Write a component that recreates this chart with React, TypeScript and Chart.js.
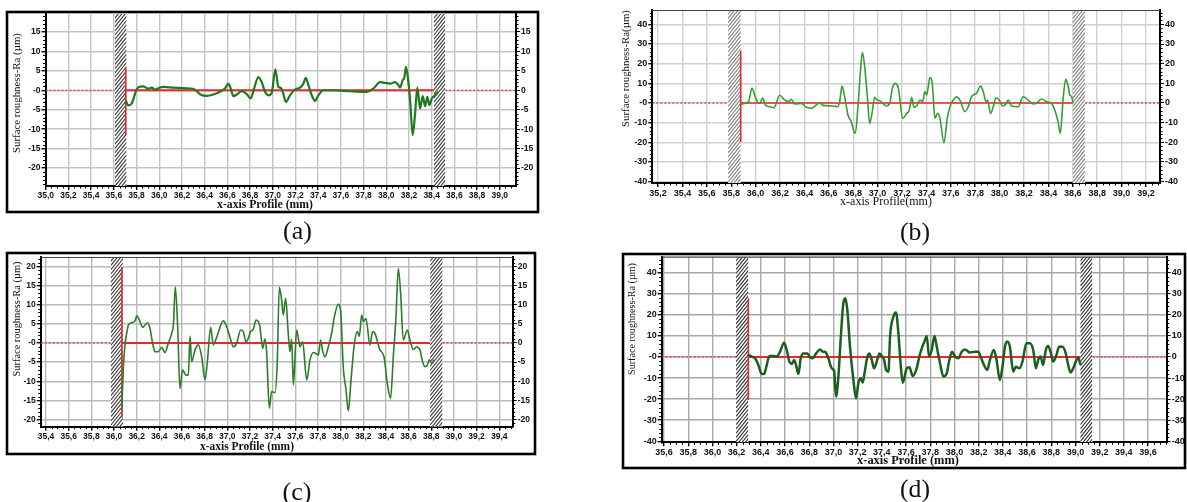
import React, { useEffect, useRef } from "react";
import { Chart, registerables } from "chart.js";

Chart.register(...registerables);

const PAGE_W = 1187;
const PAGE_H = 502;
const SANS = "'Liberation Sans', Arial, sans-serif";
const SERIF = "'Liberation Serif', 'Times New Roman', serif";

// ---------------- (a) ----------------
const A_X = [35.705, 35.728, 35.757, 35.801, 35.825, 35.86, 35.881, 35.904, 35.934, 35.963, 36.007, 36.036, 36.124, 36.242, 36.3, 36.359, 36.418, 36.477, 36.536, 36.58, 36.609, 36.63, 36.653, 36.688, 36.727, 36.771, 36.806, 36.835, 36.873, 36.903, 36.932, 36.961, 36.991, 37.023, 37.049, 37.073, 37.093, 37.115, 37.152, 37.196, 37.24, 37.27, 37.291, 37.314, 37.344, 37.373, 37.402, 37.446, 37.534, 37.681, 37.828, 37.886, 37.945, 37.989, 38.033, 38.077, 38.107, 38.122, 38.145, 38.159, 38.174, 38.195, 38.21, 38.233, 38.254, 38.274, 38.298, 38.321, 38.342, 38.362, 38.38, 38.401, 38.43, 38.459];
const A_Y = [-2.6, -3.9, -3.4, 0.2, 0.9, 1.0, 0.7, 0.4, 0.7, 0.2, 0.7, 0.85, 0.7, 0.5, 0.4, -1.0, -1.45, -1.1, -0.4, 0.5, 1.7, 0.4, -1.5, -1.0, -0.2, -1.0, -2.1, 0.4, 3.4, 2.1, -0.4, -1.3, -0.7, 5.4, 0.9, 0.6, -0.9, -3.0, -1.3, 0.2, 0.7, 1.7, 3.2, 1.3, -1.3, -2.7, -1.3, 0, 0, -0.25, -0.4, 0.4, 2.1, 1.9, 1.7, 2.1, 1.3, 0.7, 2.6, 3.2, 6.0, 2.1, -2.6, -11.5, -6.0, 0.7, -4.7, -1.5, -4.1, -1.7, -3.8, -2.1, -1.3, -0.4];
const A_X_TICKS = [35.0, 35.2, 35.4, 35.6, 35.8, 36.0, 36.2, 36.4, 36.6, 36.8, 37.0, 37.2, 37.4, 37.6, 37.8, 38.0, 38.2, 38.4, 38.6, 38.8, 39.0];
const A_Y_TICKS = [-20, -15, -10, -5, 0, 5, 10, 15];
const A_BANDS = [[35.61, 35.712], [38.42, 38.52]];
const A_EDGE = [35.705, 6, -11.5];

// ---------------- (b) ----------------
const B_X = [35.878, 35.91, 35.943, 35.97, 35.992, 36.014, 36.033, 36.058, 36.08, 36.115, 36.151, 36.197, 36.238, 36.271, 36.293, 36.32, 36.375, 36.416, 36.457, 36.498, 36.525, 36.552, 36.621, 36.67, 36.689, 36.708, 36.73, 36.757, 36.784, 36.806, 36.817, 36.839, 36.858, 36.875, 36.894, 36.916, 36.935, 36.954, 36.976, 36.995, 37.017, 37.044, 37.071, 37.099, 37.121, 37.143, 37.17, 37.206, 37.239, 37.26, 37.279, 37.298, 37.32, 37.348, 37.369, 37.388, 37.402, 37.429, 37.448, 37.47, 37.492, 37.511, 37.544, 37.571, 37.593, 37.62, 37.648, 37.675, 37.716, 37.743, 37.77, 37.811, 37.844, 37.866, 37.888, 37.901, 37.926, 37.948, 37.97, 37.997, 38.024, 38.051, 38.07, 38.098, 38.152, 38.193, 38.234, 38.275, 38.302, 38.343, 38.384, 38.425, 38.452, 38.479, 38.498, 38.52, 38.542, 38.564, 38.575, 38.591, 38.602];
const B_Y = [-0.7, -0.2, 0.7, 7.6, 4.1, 0.7, -0.2, 2.5, -1.0, -1.9, -2.4, 3.9, 1.5, 0.7, 1.9, -0.5, -0.2, -2.2, -2.7, -1.0, 0.2, -1.2, -1.5, -1.9, 0.7, 8.6, 3.2, -6.1, -9.5, -14.6, -15.4, -1.9, 15.1, 25.8, 18.5, 3.2, -10.3, -5.3, 2.9, 1.5, 1.2, -0.2, -1.5, -0.2, 7.5, 10.0, 7.5, -7.8, -5.3, -3.6, 2.9, -2.2, -1.5, 1.5, 0.7, 5.8, 4.1, 12.9, 10.0, -7.8, -5.3, -7.8, -20.2, -7.8, -1.9, 1.5, 3.2, 1.5, -4.4, -1.9, 3.2, 4.9, 8.6, 5.8, 0.7, 1.5, -5.3, -1.9, 2.7, 1.5, -1.5, -0.5, 1.5, -1.5, -1.9, 3.2, 1.5, -0.5, -0.2, 2.0, 0.7, -0.2, -3.6, -9.5, -15.4, 1.5, 12.0, 8.0, 4.1, 3.2, -0.2];
const B_X_TICKS = [35.2, 35.4, 35.6, 35.8, 36.0, 36.2, 36.4, 36.6, 36.8, 37.0, 37.2, 37.4, 37.6, 37.8, 38.0, 38.2, 38.4, 38.6, 38.8, 39.0, 39.2];
const B_Y_TICKS = [-40, -30, -20, -10, 0, 10, 20, 30, 40];
const B_BANDS = [[35.774, 35.878], [38.6, 38.7]];
const B_EDGE = [35.878, 26.6, -19.8];

// ---------------- (c) ----------------
const C_X = [36.068, 36.083, 36.097, 36.112, 36.127, 36.156, 36.186, 36.2, 36.224, 36.253, 36.274, 36.297, 36.318, 36.341, 36.362, 36.391, 36.421, 36.45, 36.479, 36.509, 36.524, 36.541, 36.562, 36.582, 36.606, 36.635, 36.656, 36.671, 36.685, 36.715, 36.744, 36.774, 36.803, 36.824, 36.853, 36.877, 36.906, 36.965, 36.994, 37.024, 37.053, 37.082, 37.118, 37.141, 37.165, 37.185, 37.206, 37.23, 37.253, 37.274, 37.288, 37.312, 37.332, 37.347, 37.371, 37.391, 37.421, 37.441, 37.459, 37.48, 37.494, 37.515, 37.538, 37.553, 37.568, 37.583, 37.612, 37.642, 37.665, 37.701, 37.73, 37.76, 37.804, 37.824, 37.839, 37.862, 37.892, 37.921, 37.945, 37.98, 38.001, 38.024, 38.048, 38.068, 38.092, 38.118, 38.148, 38.165, 38.186, 38.201, 38.224, 38.259, 38.283, 38.303, 38.347, 38.383, 38.412, 38.441, 38.465, 38.489, 38.509, 38.53, 38.553, 38.589, 38.612, 38.641, 38.671, 38.7, 38.724, 38.745, 38.765, 38.783, 38.803, 38.824];
const C_Y = [-17.5, -6.2, -0.5, 2.5, 4.7, 5.3, 5.8, 7.1, 6.0, 4.1, 4.7, 5.3, 3.8, -0.1, -2.3, -2.3, -1.1, -2.5, -0.1, 2.5, 4.7, 14.7, 4.3, -11.9, -7.1, -8.4, -8.4, 1.8, -4.9, -1.8, -0.5, -3.6, -9.7, -4.9, 4.1, -0.5, 1.5, 5.8, 4.3, 1.5, -1.0, -0.1, 3.4, 3.0, 0.3, 1.2, 3.0, 3.6, 6.0, 5.6, 4.3, -1.4, 1.0, -2.3, -17.1, -12.7, -13.0, -4.9, 14.6, 11.2, 7.3, 11.7, 2.5, -2.3, 1.0, -11.0, 3.4, -1.0, 0.3, -9.7, -4.4, -2.5, -3.1, 0.8, -1.7, -3.6, -1.0, 2.5, 6.9, 10.1, 8.2, -6.6, -12.3, -17.8, -9.7, -1.0, 3.0, 1.7, 7.3, 5.6, 6.4, -0.5, 3.0, 2.5, -1.8, -3.6, -10.5, -14.5, -3.6, 6.9, 19.5, 13.0, 0.8, 3.4, 0.8, -1.7, -1.0, -1.8, -4.9, -6.2, -5.8, -4.4, -5.3, -4.4];
const C_X_TICKS = [35.4, 35.6, 35.8, 36.0, 36.2, 36.4, 36.6, 36.8, 37.0, 37.2, 37.4, 37.6, 37.8, 38.0, 38.2, 38.4, 38.6, 38.8, 39.0, 39.2, 39.4];
const C_Y_TICKS = [-20, -15, -10, -5, 0, 5, 10, 15, 20];
const C_BANDS = [[35.973, 36.079], [38.79, 38.9]];
const C_EDGE = [36.07, 19.9, -19.5];

// ---------------- (d) ----------------
const D_X = [36.297, 36.325, 36.352, 36.38, 36.407, 36.427, 36.449, 36.471, 36.504, 36.531, 36.559, 36.592, 36.614, 36.636, 36.655, 36.675, 36.691, 36.711, 36.73, 36.752, 36.785, 36.807, 36.829, 36.857, 36.89, 36.912, 36.931, 36.958, 36.986, 37.005, 37.022, 37.041, 37.063, 37.082, 37.099, 37.115, 37.137, 37.165, 37.187, 37.206, 37.225, 37.242, 37.261, 37.281, 37.297, 37.317, 37.336, 37.358, 37.38, 37.399, 37.419, 37.435, 37.455, 37.468, 37.496, 37.517, 37.537, 37.556, 37.573, 37.606, 37.628, 37.655, 37.688, 37.71, 37.73, 37.752, 37.771, 37.79, 37.812, 37.835, 37.854, 37.881, 37.909, 37.936, 37.958, 37.98, 38.005, 38.032, 38.06, 38.087, 38.128, 38.17, 38.197, 38.216, 38.244, 38.271, 38.293, 38.326, 38.348, 38.375, 38.397, 38.417, 38.436, 38.458, 38.486, 38.508, 38.535, 38.562, 38.595, 38.623, 38.651, 38.673, 38.692, 38.711, 38.733, 38.755, 38.774, 38.794, 38.816, 38.843, 38.865, 38.893, 38.92, 38.94, 38.959, 38.981, 39.003, 39.022, 39.042];
const D_Y = [1.0, 0.2, -0.6, -3.8, -8.1, -8.1, -3.8, 0.5, 0.5, 0.2, 2.5, 6.8, 3.3, -2.2, -3.3, -1.4, -3.8, -8.1, -0.6, 1.7, 1.7, -0.2, -0.6, 1.7, 3.6, 2.5, 2.5, -0.6, -5.4, -6.5, -18.8, -9.3, 11.2, 25.5, 27.9, 22.3, 4.9, -10.9, -19.6, -12.5, -10.1, -12.2, -6.2, 0.2, 1.7, -1.4, -5.4, -2.2, 1.7, 0.5, -1.4, -6.2, -7.0, 9.7, 19.2, 21.1, 11.2, -3.8, -12.2, -5.4, -4.9, -9.0, -5.4, 0.2, 4.1, 7.3, 10.0, 0.2, 3.3, 10.0, 4.9, -3.0, -9.3, -7.8, -1.4, 2.5, 0.2, -0.6, 2.5, 3.6, 2.1, 2.5, 2.5, 0.2, -3.8, -6.2, -1.4, 3.3, -1.4, -10.9, -4.6, 4.9, 7.3, 4.9, -7.0, -4.6, -5.4, -2.2, 6.5, 6.5, 3.3, -5.4, -1.4, 0.2, -3.8, 3.3, 5.2, 2.5, -2.2, 1.0, 4.9, 4.9, 1.7, -3.8, -7.4, -5.4, -2.2, -0.2, -3.8];
const D_X_TICKS = [35.6, 35.8, 36.0, 36.2, 36.4, 36.6, 36.8, 37.0, 37.2, 37.4, 37.6, 37.8, 38.0, 38.2, 38.4, 38.6, 38.8, 39.0, 39.2, 39.4, 39.6];
const D_Y_TICKS = [-40, -30, -20, -10, 0, 10, 20, 30, 40];
const D_BANDS = [[36.195, 36.297], [39.04, 39.14]];
const D_EDGE = [36.297, 27.9, -20.4];

type TextSpec = { text: string; x: number; y: number; w: number; weight: string };

type Panel = {
  xs: number[]; ys: number[]; xTicks: number[]; yTicks: number[];
  bands: number[][]; edge: number[];
  xMin: number; xMax: number; yMin: number; yMax: number;
  area: { l: number; t: number; r: number; b: number };
  box: number[] | null;
  green: string; greenW: number; redW: number; grid: string; hatch: string;
  tickSize: number; yMinor: number; topLine: boolean;
  yTitle: TextSpec; xTitle: TextSpec; caption: TextSpec;
};

const PANELS: Panel[] = [
  {
    xs: A_X, ys: A_Y, xTicks: A_X_TICKS, yTicks: A_Y_TICKS, bands: A_BANDS, edge: A_EDGE,
    xMin: 34.998, xMax: 39.143, yMin: -24.6, yMax: 19.6,
    area: { l: 45.5, t: 14, r: 516, b: 186 }, box: [7, 12, 538, 212],
    green: "#1f7a1f", greenW: 2.2, redW: 2, grid: "#c4c4c4", hatch: "#3a3a3a",
    tickSize: 8.5, yMinor: 1, topLine: false,
    yTitle: { text: "Surface roughness-Ra (µm)", x: 17.5, y: 93, w: 120, weight: "normal" },
    xTitle: { text: "x-axis Profile (mm)", x: 265, y: 205, w: 96, weight: "bold" },
    caption: { text: "(a)", x: 297.5, y: 232.5, w: 29, weight: "normal" },
  },
  {
    xs: B_X, ys: B_Y, xTicks: B_X_TICKS, yTicks: B_Y_TICKS, bands: B_BANDS, edge: B_EDGE,
    xMin: 35.153, xMax: 39.315, yMin: -40.7, yMax: 47.3,
    area: { l: 652.3, t: 10, r: 1160, b: 183 }, box: null,
    green: "#34a034", greenW: 1.6, redW: 1.6, grid: "#cfcfcf", hatch: "#808080",
    tickSize: 9, yMinor: 2, topLine: true,
    yTitle: { text: "Surface roughness-Ra(µm)", x: 626, y: 68.5, w: 117, weight: "normal" },
    xTitle: { text: "x-axis Profile(mm)", x: 886, y: 202, w: 92, weight: "normal" },
    caption: { text: "(b)", x: 915, y: 233.5, w: 30, weight: "normal" },
  },
  {
    xs: C_X, ys: C_Y, xTicks: C_X_TICKS, yTicks: C_Y_TICKS, bands: C_BANDS, edge: C_EDGE,
    xMin: 35.353, xMax: 39.519, yMin: -21.9, yMax: 22.5,
    area: { l: 40.7, t: 257, r: 512.7, b: 426.7 }, box: [7, 253, 535, 454],
    green: "#2b7d2b", greenW: 1.6, redW: 2, grid: "#bababa", hatch: "#3a3a3a",
    tickSize: 8.5, yMinor: 1, topLine: true,
    yTitle: { text: "Surface roughness-Ra (µm)", x: 17, y: 319, w: 115, weight: "normal" },
    xTitle: { text: "x-axis Profile (mm)", x: 247, y: 447, w: 94, weight: "bold" },
    caption: { text: "(c)", x: 297, y: 493, w: 29, weight: "normal" },
  },
  {
    xs: D_X, ys: D_Y, xTicks: D_X_TICKS, yTicks: D_Y_TICKS, bands: D_BANDS, edge: D_EDGE,
    xMin: 35.581, xMax: 39.754, yMin: -40.5, yMax: 47.6,
    area: { l: 661.7, t: 256.7, r: 1166.7, b: 442.3 }, box: [623, 254, 1185, 468],
    green: "#1b5e20", greenW: 2.5, redW: 2, grid: "#a8a8a8", hatch: "#2e2e2e",
    tickSize: 9, yMinor: 2, topLine: true,
    yTitle: { text: "Surface roughness-Ra (µm)", x: 632, y: 319, w: 112, weight: "normal" },
    xTitle: { text: "x-axis Profile (mm)", x: 908, y: 461, w: 102, weight: "bold" },
    caption: { text: "(d)", x: 915, y: 490.5, w: 30, weight: "normal" },
  },
];

const Y_W = 30;
const Y2_W = 20;
const X_H = 20;
const RED = "#e8262b";

function drawFitText(ctx: CanvasRenderingContext2D, t: TextSpec, rotate: boolean) {
  ctx.save();
  ctx.font = `${t.weight} 20px ${SERIF}`;
  const m = ctx.measureText(t.text).width;
  const size = (20 * t.w) / m;
  ctx.font = `${t.weight} ${size}px ${SERIF}`;
  ctx.translate(t.x, t.y);
  if (rotate) ctx.rotate(-Math.PI / 2);
  ctx.textAlign = "center";
  ctx.textBaseline = "middle";
  ctx.fillStyle = "#111";
  ctx.fillText(t.text, 0, 0);
  ctx.restore();
}

function buildChart(canvas: HTMLCanvasElement, p: Panel) {
  const tickFont = { family: SANS, size: p.tickSize, weight: "bold" as const };
  const deco = {
    id: "deco",
    beforeDatasetsDraw(chart: any) {
      const { ctx, chartArea: a, scales } = chart;
      const xs = scales.x;
      ctx.save();
      ctx.beginPath();
      ctx.rect(a.left, a.top, a.right - a.left, a.bottom - a.top);
      ctx.clip();
      for (const [b0, b1] of p.bands) {
        const x0 = xs.getPixelForValue(b0);
        const x1 = xs.getPixelForValue(b1);
        const bw = x1 - x0;
        ctx.fillStyle = "#fff";
        ctx.fillRect(x0, a.top, bw, a.bottom - a.top);
        ctx.save();
        ctx.beginPath();
        ctx.rect(x0, a.top, bw, a.bottom - a.top);
        ctx.clip();
        ctx.strokeStyle = p.hatch;
        ctx.lineWidth = 1.1;
        ctx.beginPath();
        const rise = bw * 1.25;
        for (let y = a.top - rise; y < a.bottom + rise; y += 4.2) {
          ctx.moveTo(x0, y + rise);
          ctx.lineTo(x1, y);
        }
        ctx.stroke();
        ctx.restore();
      }
      ctx.restore();
    },
    afterDraw(chart: any) {
      const { ctx, chartArea: a, scales } = chart;
      const xs = scales.x;
      const ys = scales.y;
      ctx.save();
      ctx.strokeStyle = "#000";
      ctx.lineWidth = 1;
      ctx.beginPath();
      for (let k = Math.ceil(p.xMin * 20); k <= Math.floor(p.xMax * 20); k++) {
        if (k % 4 === 0) continue;
        const px = Math.round(xs.getPixelForValue(k / 20)) + 0.5;
        ctx.moveTo(px, a.bottom);
        ctx.lineTo(px, a.bottom + 2.5);
      }
      for (let k = Math.ceil(p.yMin / p.yMinor); k <= Math.floor(p.yMax / p.yMinor); k++) {
        const v = k * p.yMinor;
        if (p.yTicks.includes(v)) continue;
        const py = Math.round(ys.getPixelForValue(v)) + 0.5;
        ctx.moveTo(a.left - 2.5, py);
        ctx.lineTo(a.left, py);
        ctx.moveTo(a.right, py);
        ctx.lineTo(a.right + 2.5, py);
      }
      ctx.stroke();
      if (p.topLine) {
        ctx.strokeStyle = "#444";
        ctx.lineWidth = 1.2;
        ctx.beginPath();
        ctx.moveTo(a.left, a.top + 0.5);
        ctx.lineTo(a.right, a.top + 0.5);
        ctx.stroke();
      }
      if (p.box) {
        const [l, t, r, b] = p.box;
        ctx.strokeStyle = "#000";
        ctx.lineWidth = 2.6;
        ctx.strokeRect(l, t, r - l, b - t);
      }
      ctx.restore();
      drawFitText(ctx, p.yTitle, true);
      drawFitText(ctx, p.xTitle, false);
      drawFitText(ctx, p.caption, false);
    },
  };

  const yTickCfg = (left: boolean) => ({
    afterBuildTicks: (s: any) => {
      s.ticks = p.yTicks.map((v) => ({ value: v }));
    },
    ticks: {
      callback: (v: any) => (left && Number(v) === 0 ? "-0" : String(v)),
      font: tickFont,
      color: "#111",
      padding: 1,
      autoSkip: false,
    },
  });

  return new Chart(canvas, {
    type: "line",
    data: {
      datasets: [
        {
          label: "profile",
          data: p.xs.map((x, i) => ({ x, y: p.ys[i] })),
          borderColor: p.green,
          borderWidth: p.greenW,
          pointRadius: 0,
          cubicInterpolationMode: "monotone",
          fill: false,
        },
        {
          label: "reference",
          data: [{ x: p.edge[0], y: 0 }, { x: p.bands[1][0], y: 0 }],
          borderColor: RED,
          borderWidth: p.redW,
          pointRadius: 0,
          fill: false,
        },
        {
          label: "reference-left",
          data: [{ x: p.xMin, y: 0 }, { x: p.bands[0][0], y: 0 }],
          borderColor: RED,
          borderWidth: 1.2,
          borderDash: [2, 2],
          pointRadius: 0,
          fill: false,
        },
        {
          label: "reference-right",
          data: [{ x: p.bands[1][1], y: 0 }, { x: p.xMax, y: 0 }],
          borderColor: RED,
          borderWidth: 1.2,
          borderDash: [2, 2],
          pointRadius: 0,
          fill: false,
        },
        {
          label: "edge",
          data: [{ x: p.edge[0], y: p.edge[1] }, { x: p.edge[0], y: p.edge[2] }],
          borderColor: RED,
          borderWidth: 1.6,
          pointRadius: 0,
          fill: false,
        },
      ],
    },
    options: {
      animation: false,
      responsive: false,
      devicePixelRatio: 1,
      events: [],
      layout: {
        padding: {
          left: p.area.l - Y_W,
          top: p.area.t,
          right: PAGE_W - p.area.r - Y2_W,
          bottom: PAGE_H - p.area.b - X_H,
        },
      },
      plugins: { legend: { display: false }, tooltip: { enabled: false } },
      scales: {
        x: {
          type: "linear",
          min: p.xMin,
          max: p.xMax,
          afterBuildTicks: (s: any) => {
            s.ticks = p.xTicks.map((v) => ({ value: v }));
          },
          afterFit: (s: any) => {
            s.height = X_H;
          },
          ticks: {
            callback: (v: any) => Number(v).toFixed(1).replace(".", ","),
            font: tickFont,
            color: "#111",
            padding: 1,
            autoSkip: false,
            maxRotation: 0,
            minRotation: 0,
          },
          grid: { color: p.grid, lineWidth: 1.4, tickLength: 4, tickColor: "#000", drawTicks: true },
          border: { display: true, color: "#000", width: 2 },
        },
        y: {
          type: "linear",
          position: "left",
          min: p.yMin,
          max: p.yMax,
          afterFit: (s: any) => {
            s.width = Y_W;
          },
          ...yTickCfg(true),
          grid: { color: p.grid, lineWidth: 1.4, tickLength: 4, tickColor: "#000", drawTicks: true },
          border: { display: true, color: "#000", width: 2 },
        },
        y2: {
          type: "linear",
          position: "right",
          min: p.yMin,
          max: p.yMax,
          afterFit: (s: any) => {
            s.width = Y2_W;
          },
          ...yTickCfg(false),
          grid: { drawOnChartArea: false, tickLength: 4, tickColor: "#000", drawTicks: true },
          border: { display: true, color: "#000", width: 2 },
        },
      },
    } as any,
    plugins: [deco],
  });
}

export default function App() {
  const refs = useRef<(HTMLCanvasElement | null)[]>([]);
  useEffect(() => {
    const charts = PANELS.map((p, i) => buildChart(refs.current[i] as HTMLCanvasElement, p));
    return () => charts.forEach((c) => c.destroy());
  }, []);
  return (
    <div style={{ position: "absolute", left: 0, top: 0, width: PAGE_W, height: PAGE_H, background: "#fff" }}>
      {PANELS.map((_, i) => (
        <canvas
          key={i}
          ref={(el) => {
            refs.current[i] = el;
          }}
          width={PAGE_W}
          height={PAGE_H}
          style={{ position: "absolute", left: 0, top: 0, width: PAGE_W, height: PAGE_H }}
        />
      ))}
    </div>
  );
}
